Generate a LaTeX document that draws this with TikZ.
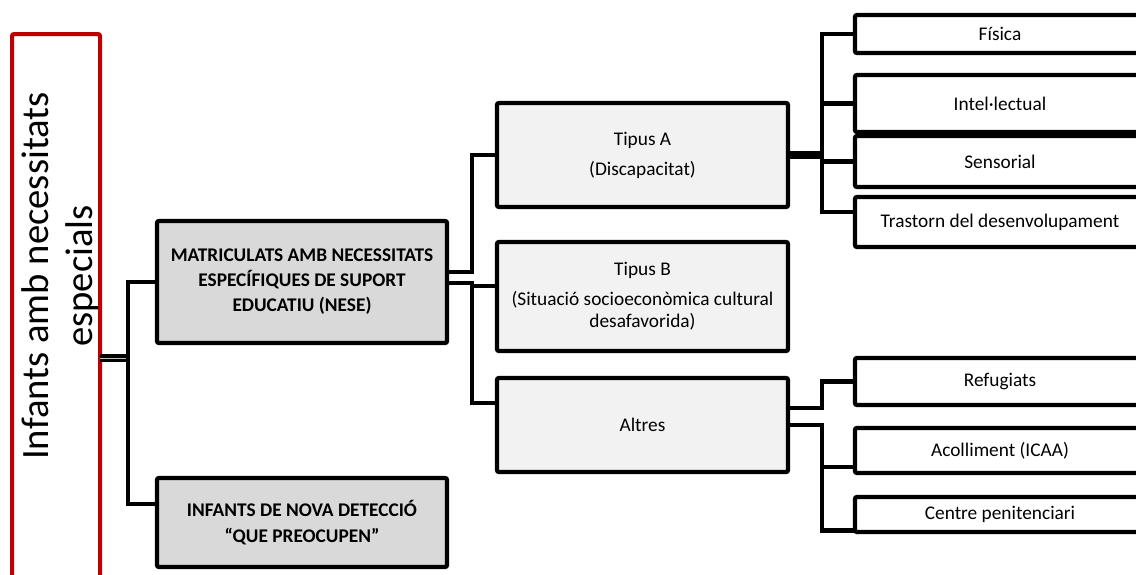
\documentclass[tikz,border=0pt]{standalone}
\usepackage{fontspec}
\setmainfont{Carlito}
\definecolor{boxred}{HTML}{C00000}
\definecolor{darkfill}{HTML}{D9D9D9}
\definecolor{lightfill}{HTML}{F2F2F2}

\begin{document}
\begin{tikzpicture}[x=0.75pt,y=-0.75pt,
   box/.style={draw,shape=rectangle,line width=3.2pt,rounded corners=1.5pt,
     minimum width=217.5pt,inner sep=2pt,outer sep=0pt,align=center,
     font=\fontsize{14.5}{16.5}\selectfont},
   main/.style={box,fill=darkfill,font=\bfseries\fontsize{14.5}{18.75}\selectfont},
   kind/.style={box,fill=lightfill,minimum width=218.25pt},
   leaf/.style={box,fill=white},
   link/.style={line width=3.2pt,line join=miter}]
   \useasboundingbox (0,0) rectangle (1136,575);
   \clip (0,0) rectangle (1136,575);

   \path (56,327) node[draw=boxred,line width=3pt,rounded corners=1.5pt,outer sep=0pt,
     minimum width=66pt,minimum height=439.5pt] (Inf) {};
   \path (60,276) node[rotate=90,align=center,font=\fontsize{29}{33}\selectfont] (Ttl)
     {Infants amb necessitats\\especials};

   \path (302,282) node[main,minimum height=91.5pt] (Nese)
     {MATRICULATS AMB NECESSITATS\\ESPECÍFIQUES DE SUPORT\\EDUCATIU (NESE)};
   \path (302,522.5) node[main,minimum height=66.75pt] (Nova)
     {INFANTS DE NOVA DETECCIÓ\\[1pt]“QUE PREOCUPEN”};

   \path (642.5,155) node[kind,minimum height=78pt] (TA) {Tipus A\\[6pt](Discapacitat)};
   \path (642.5,296.5) node[kind,minimum height=81.75pt] (TB)
     {Tipus B\\[6pt](Situació socioeconòmica cultural\\desafavorida)};
   \path (642.5,425) node[kind,minimum height=70.5pt] (Alt) {Altres};

   \path (1000,34) node[leaf,minimum height=28.5pt] (Fis) {Física};
   \path (1000,103.5) node[leaf,minimum height=42.75pt] (Int) {Intel·lectual};
   \path (1000,161.5) node[leaf,minimum height=38.25pt] (Sen) {Sensorial};
   \path (1000,222) node[leaf,minimum height=37.5pt] (Tra) {Trastorn del desenvolupament};
   \path (1000,381.5) node[leaf,minimum height=35.25pt] (Ref) {Refugiats};
   \path (1000,450.5) node[leaf,minimum height=33.75pt] (Aco) {Acolliment (ICAA)};
   \path (1000,514.5) node[leaf,minimum height=26.25pt] (Pen) {Centre penitenciari};

   \coordinate (J) at (128,358);
   \draw[line width=2.6pt,double=gray!50,double distance=0.5pt] ([yshift=-23.25pt]Inf.east) -- (J);
   \draw[link] (Nese.west) -| (J) |- ([yshift=13.9pt]Nova.west);

   \draw[link] ([yshift=7.5pt]Nese.east) -- ++(25,0) |- (TA.west);
   \draw[link] ([yshift=-0.75pt]Nese.east) -- ++(25,0) |- ([yshift=16.5pt]Alt.west);
   \draw[link] ([yshift=7.9pt]TB.west) -- ++(-25,0);

   \draw[link,line width=6pt] (TA.east) -- ++(34,0) coordinate (JA);
   \draw[link] (Fis.west) -| (JA);
   \draw[link] (Int.west) -| (JA);
   \draw[link] (Sen.west) -| (JA);
   \draw[link] ([yshift=7.5pt]Tra.west) -| (JA);

   \draw[link] ([yshift=12.75pt]Alt.east) -- ++(34,0) |- (Ref.west);
   \draw[link] (Alt.east) -- ++(34,0) |- ([yshift=-12pt]Pen.west);
   \draw[link] ([yshift=-12.4pt]Aco.west) -- ++(-33,0);
\end{tikzpicture}
\end{document}
